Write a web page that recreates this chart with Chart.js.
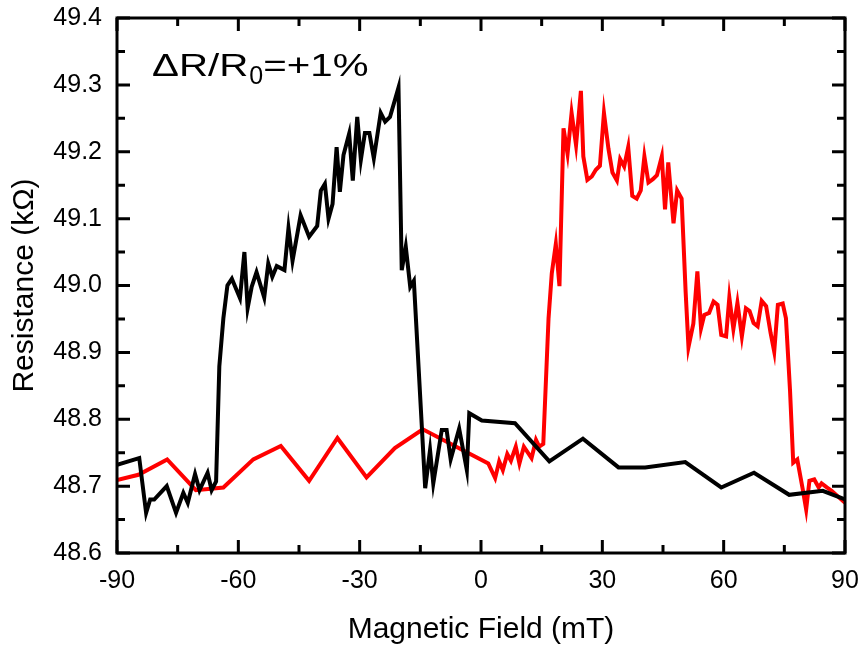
<!DOCTYPE html>
<html>
<head>
<meta charset="utf-8">
<title>Resistance vs Magnetic Field</title>
<script src="https://cdn.jsdelivr.net/npm/chart.js@4.4.1/dist/chart.umd.min.js"></script>
<style>
  html, body { margin: 0; padding: 0; background: #fff; }
  #wrap { width: 859px; height: 648px; }
</style>
</head>
<body>
<div id="wrap"><canvas id="chart" width="859" height="648"></canvas></div>
<script>
// sweep traces, field in mT, resistance in kOhm
const blackField = [-90, -84.5, -82.8, -81.8, -80.8, -77.7, -75.4, -73.6, -72.5, -70.7,
  -69.6, -67.6, -66.6, -65.5, -64.7, -63.7, -62.7, -61.6, -59.6, -58.5,
  -57.7, -56.7, -55.5, -53.6, -52.6, -51.6, -50.5, -48.6, -47.6, -46.6,
  -44.6, -42.5, -40.5, -39.6, -38.6, -37.7, -36.7, -35.7, -34.9, -34.0,
  -32.6, -31.7, -30.6, -29.7, -28.7, -27.6, -26.5, -24.8, -23.7, -22.5,
  -20.4, -19.6, -18.6, -17.5, -16.6, -13.8, -12.6, -11.8, -9.7, -8.5,
  -7.5, -5.4, -3.5, -2.9, 0.2, 8.4, 16.9, 25.2, 34.0, 40.6,
  50.5, 59.4, 67.5, 76.2, 84.5, 90];
const blackRes = [48.732, 48.742, 48.66, 48.68, 48.68, 48.70, 48.66, 48.69, 48.675, 48.718,
  48.694, 48.72, 48.694, 48.707, 48.879, 48.951, 49.0, 49.01, 48.981, 49.05,
  48.966, 48.998, 49.02, 48.982, 49.033, 49.013, 49.029, 49.023, 49.086, 49.037,
  49.105, 49.073, 49.089, 49.142, 49.152, 49.10, 49.122, 49.207, 49.14, 49.195,
  49.227, 49.157, 49.252, 49.188, 49.228, 49.228, 49.19, 49.258, 49.245, 49.252,
  49.296, 49.023, 49.058, 48.998, 49.007, 48.697, 48.754, 48.704, 48.784, 48.784,
  48.74, 48.786, 48.724, 48.809, 48.798, 48.794, 48.737, 48.771, 48.728, 48.728,
  48.736, 48.698, 48.72, 48.687, 48.693, 48.68];

const redField = [-90, -84.7, -77.6, -70.5, -63.7, -56.3, -49.5, -42.5, -35.5, -28.3,
  -21.3, -14.4, 1.8, 3.5, 4.5, 5.4, 6.5, 7.4, 8.6, 9.5,
  10.6, 12.5, 13.6, 14.4, 15.4, 16.7, 17.5, 18.5, 19.4, 20.4,
  21.4, 22.4, 23.5, 24.7, 25.3, 26.3, 27.4, 28.4, 29.4, 30.4,
  31.5, 32.5, 33.6, 34.4, 35.4, 36.4, 37.4, 38.5, 39.5, 40.4,
  41.4, 42.5, 43.5, 44.7, 45.5, 46.3, 47.6, 48.5, 49.6, 50.6,
  51.3, 52.5, 53.5, 54.4, 55.2, 56.4, 57.5, 58.5, 59.4, 60.6,
  61.4, 62.4, 63.4, 64.5, 65.5, 66.4, 67.4, 68.4, 69.4, 70.5,
  71.6, 72.5, 73.4, 74.6, 75.4, 76.4, 77.2, 78.2, 79.5, 80.4,
  81.2, 82.4, 83.5, 84.2, 85.5, 86.7, 90];
const redRes = [48.709, 48.717, 48.74, 48.694, 48.698, 48.74, 48.76, 48.708, 48.772, 48.713,
  48.757, 48.785, 48.734, 48.712, 48.737, 48.724, 48.748, 48.738, 48.759, 48.734,
  48.759, 48.742, 48.769, 48.759, 48.763, 48.951, 49.018, 49.062, 48.999, 49.235,
  49.197, 49.258, 49.21, 49.291, 49.193, 49.158, 49.163, 49.173, 49.179, 49.258,
  49.205, 49.169, 49.157, 49.189, 49.178, 49.207, 49.134, 49.130, 49.142, 49.193,
  49.154, 49.159, 49.165, 49.193, 49.114, 49.184, 49.093, 49.142, 49.130, 48.99,
  48.908, 48.943, 49.021, 48.936, 48.956, 48.959, 48.976, 48.971, 48.926, 48.924,
  48.982, 48.935, 48.974, 48.924, 48.966, 48.962, 48.944, 48.939, 48.977, 48.969,
  48.929, 48.901, 48.971, 48.973, 48.951, 48.844, 48.735, 48.74, 48.697, 48.665,
  48.708, 48.71, 48.698, 48.704, 48.698, 48.693, 48.675];

// axis ticks
const xTicks = [-90, -60, -30, 0, 30, 60, 90];
const xMinorTicks = [-75, -45, -15, 15, 45, 75];
const yTicks = [48.6, 48.7, 48.8, 48.9, 49.0, 49.1, 49.2, 49.3, 49.4];
const yMinorTicks = [48.65, 48.75, 48.85, 48.95, 49.05, 49.15, 49.25, 49.35];

const FONT = "'Liberation Sans', Arial, sans-serif";

const toPoints = (xs, ys) => xs.map((x, i) => ({ x: x, y: ys[i] }));

// frame + inward ticks on all four sides
const framePlugin = {
  id: 'frame',
  afterDraw(chart) {
    const ctx = chart.ctx;
    const a = chart.chartArea;
    const xs = chart.scales.x, ys = chart.scales.y;
    ctx.save();
    ctx.strokeStyle = '#000';
    ctx.lineWidth = 3;
    ctx.lineCap = 'butt';
    ctx.beginPath();
    const tick = (vals, len, horiz) => {
      vals.forEach(v => {
        if (horiz) {
          const px = xs.getPixelForValue(v);
          ctx.moveTo(px, a.bottom); ctx.lineTo(px, a.bottom - len);
          ctx.moveTo(px, a.top); ctx.lineTo(px, a.top + len);
        } else {
          const py = ys.getPixelForValue(v);
          ctx.moveTo(a.left, py); ctx.lineTo(a.left + len, py);
          ctx.moveTo(a.right, py); ctx.lineTo(a.right - len, py);
        }
      });
    };
    tick(xTicks, 13, true);
    tick(xMinorTicks, 8, true);
    tick(yTicks, 13, false);
    tick(yMinorTicks, 8, false);
    ctx.stroke();
    ctx.strokeRect(a.left, a.top, a.right - a.left, a.bottom - a.top);

    // ΔR/R0 label, slightly widened
    ctx.fillStyle = '#000';
    ctx.textBaseline = 'alphabetic';
    ctx.translate(152, 76);
    ctx.scale(1.3, 1);
    ctx.font = '31px ' + FONT;
    ctx.fillText('\u0394R/R', 0, 0);
    let w = ctx.measureText('\u0394R/R').width;
    ctx.save();
    ctx.scale(1 / 1.3, 1);
    ctx.font = '25px ' + FONT;
    ctx.fillText('0', w * 1.3 + 1, 8);
    const sub = ctx.measureText('0').width;
    ctx.restore();
    w += (sub + 1) / 1.3;
    ctx.font = '31px ' + FONT;
    ctx.fillText('=+1%', w, 0);
    ctx.restore();
  }
};

new Chart(document.getElementById('chart').getContext('2d'), {
  type: 'scatter',
  data: {
    datasets: [
      {
        label: 'down',
        data: toPoints(blackField, blackRes),
        showLine: true,
        borderColor: '#000000',
        borderWidth: 4,
        pointRadius: 0,
        tension: 0
      },
      {
        label: 'up',
        data: toPoints(redField, redRes),
        showLine: true,
        borderColor: '#ff0000',
        borderWidth: 4,
        pointRadius: 0,
        tension: 0
      }
    ]
  },
  options: {
    responsive: false,
    animation: false,
    layout: { padding: { top: 18, right: 14, left: 0, bottom: 0 } },
    plugins: { legend: { display: false }, tooltip: { enabled: false } },
    scales: {
      x: {
        type: 'linear',
        min: -90,
        max: 90,
        afterBuildTicks: s => { s.ticks = xTicks.map(v => ({ value: v })); },
        afterFit: s => { s.height = 95; s.paddingLeft = 0; s.paddingRight = 0; },
        grid: { display: false, drawTicks: false },
        border: { display: false },
        ticks: {
          color: '#000',
          font: { family: FONT, size: 25 },
          padding: 13,
          maxRotation: 0
        },
        title: {
          display: true,
          text: 'Magnetic Field (mT)',
          color: '#000',
          font: { family: FONT, size: 30 },
          padding: { top: 0, bottom: 0 }
        }
      },
      y: {
        min: 48.6,
        max: 49.4,
        afterBuildTicks: s => { s.ticks = yTicks.map(v => ({ value: v })); },
        afterFit: s => { s.width = 117; s.paddingTop = 0; s.paddingBottom = 0; },
        grid: { display: false, drawTicks: false },
        border: { display: false },
        ticks: {
          color: '#000',
          font: { family: FONT, size: 25 },
          padding: 15,
          callback: v => v.toFixed(1)
        },
        title: {
          display: true,
          text: 'Resistance (k\u03A9)',
          color: '#000',
          font: { family: FONT, size: 30 },
          padding: { top: 7, bottom: 0 }
        }
      }
    }
  },
  plugins: [framePlugin]
});
</script>
</body>
</html>
